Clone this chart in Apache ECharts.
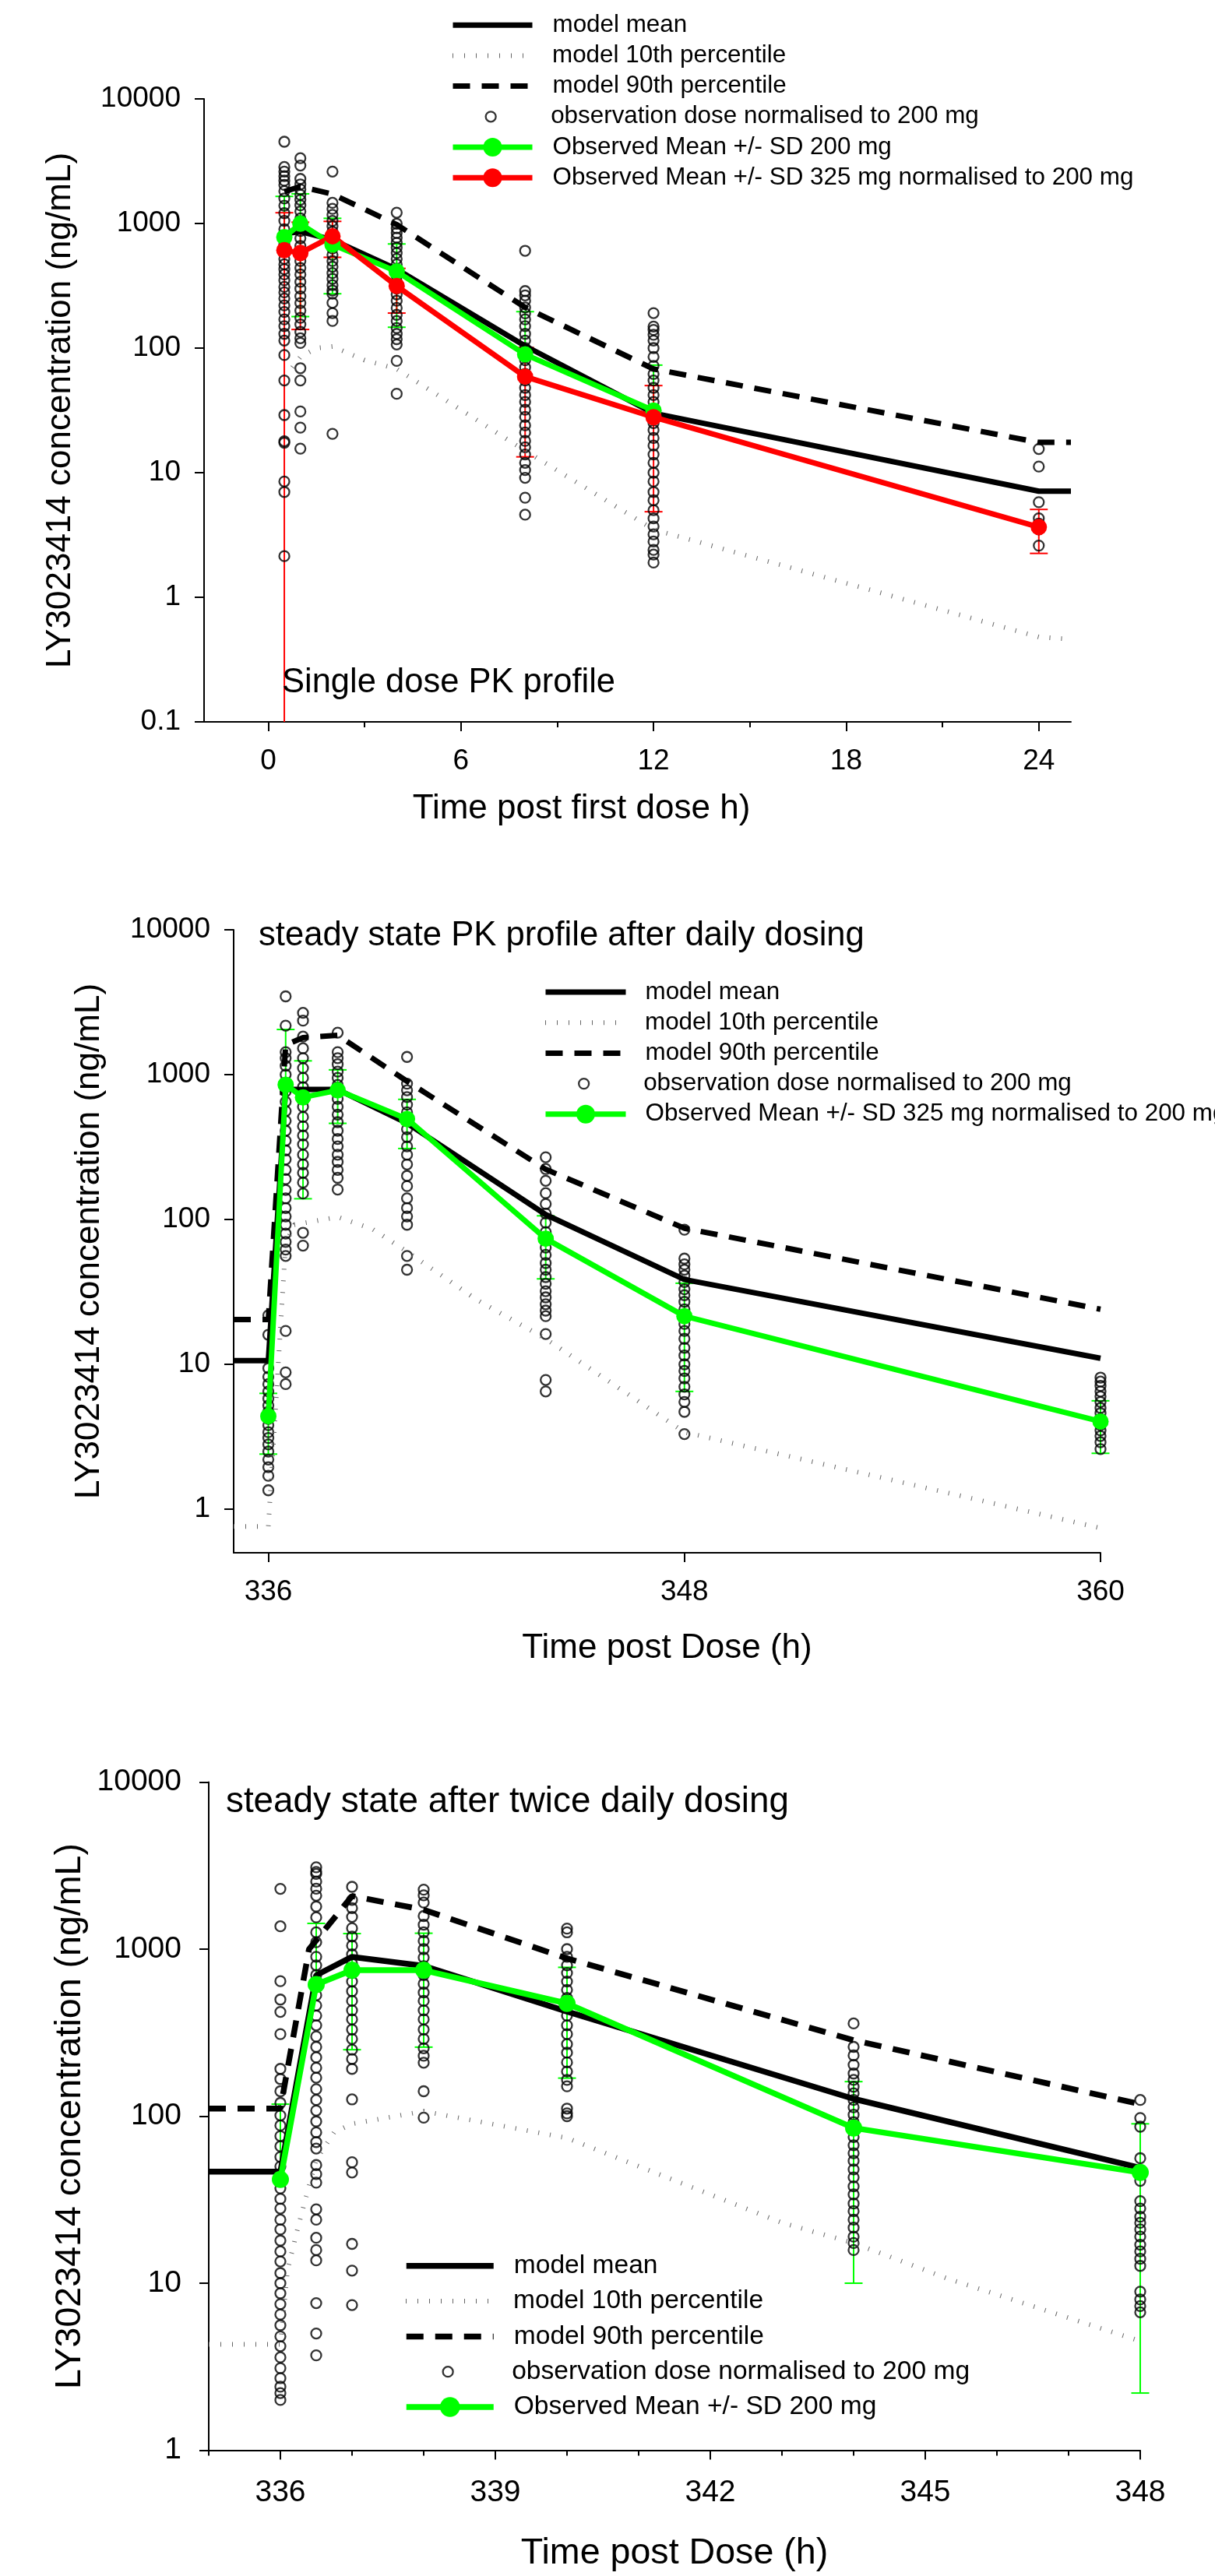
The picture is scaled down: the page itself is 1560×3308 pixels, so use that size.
<!doctype html>
<html lang="en">
<head>
<meta charset="UTF-8">
<title>LY3023414 PK profiles</title>
<script src="https://cdn.jsdelivr.net/npm/echarts@6/dist/echarts.min.js"></script>
<style>
	html, body { margin: 0; padding: 0; background: #fff; }
	#main { width: 1560px; height: 3308px; }
</style>
</head>
<body>
<div id="main"></div>
<script type="text/javascript">
	var FONT = '"Liberation Sans", Arial, sans-serif';
	var GREEN = '#00ff00', RED = '#ff0000', DOT = '#666';

	// ---------- panel 1 : single dose ----------
	var p1ModelTime = [0.5, 1, 2, 4, 8, 12, 24, 25];
	var p1ModelMean = [830, 860, 740, 430, 104, 30, 7.1, 7.1];
	var p1Model90 = [1800, 1980, 1720, 980, 212, 68, 17.5, 17.5];
	var p1Model10Time = [0.75, 1, 1.5, 2, 3, 4, 8, 12, 24, 25];
	var p1Model10 = [70, 85, 100, 103, 80, 68, 15, 3.5, 0.48, 0.46];
	var p1ObsTime = [0.5, 1, 2, 4, 8, 12, 24];
	var p1ObsValues = [
		[4530, 2840, 2610, 2400, 2210, 2040, 1820, 1590, 1390, 1210, 1050, 900, 780, 680, 600, 520, 470, 430, 390, 350, 310, 280, 250, 220, 195, 170, 150, 130, 115, 88, 55, 29, 17.9, 17.4, 8.5, 7.0, 2.14],
		[3340, 2920, 2280, 2060, 1880, 1700, 1550, 1400, 1250, 1100, 980, 870, 760, 660, 580, 500, 440, 390, 340, 300, 260, 230, 200, 175, 155, 135, 120, 110, 69, 55, 31, 23, 15.6],
		[2610, 1466, 1312, 1175, 1050, 950, 860, 780, 700, 630, 560, 500, 450, 400, 360, 320, 290, 273, 231, 191, 165, 20.5],
		[1222, 996, 916, 840, 770, 700, 640, 580, 520, 470, 420, 380, 340, 300, 270, 240, 210, 185, 165, 145, 130, 118, 107, 79, 43],
		[604, 287, 265, 240, 212, 190, 170, 150, 130, 115, 100, 90, 80, 70, 62, 55, 48, 42, 37, 32, 28, 24, 21, 18, 16, 14, 12, 10.5, 9.1, 6.3, 4.6],
		[191, 149, 140, 128, 115, 100, 85, 72, 62, 55, 48, 42, 37, 32, 28, 25, 22, 19, 16.5, 14, 12, 10, 8.5, 7, 6, 5, 4.3, 3.7, 3.2, 2.8, 2.4, 2.2, 1.9],
		[15.5, 11.2, 5.8, 4.3, 3.9, 3.5, 2.6]
	];
	var p1GreenTime = [0.5, 1, 2, 4, 8, 12];
	var p1GreenMean = [778, 995, 678, 412, 89, 31.5];
	var p1GreenLow = [null, 179, 273, 147, null, null];
	var p1GreenHigh = [1650, 1730, 1100, 685, 196, 73];
	var p1RedTime = [0.5, 1, 2, 4, 8, 12, 24];
	var p1RedMean = [610, 580, 790, 315, 59, 27.9, 3.66];
	var p1RedLow = [0.05, 141, 535, 191, 13.4, 4.86, 2.25];
	var p1RedHigh = [1220, 1024, 1040, 436, 101, 50, 5.07];

	// ---------- panel 2 : steady state, daily dosing ----------
	var p2ModelTime = [335, 336, 336.5, 337, 338, 340, 344, 348, 360];
	var p2ModelMean = [10.6, 10.6, 790, 790, 790, 462, 108, 38.5, 11];
	var p2Model90 = [20.4, 20.4, 1600, 1800, 1870, 900, 222, 87, 24];
	var p2Model10Time = [335, 336, 336.5, 336.75, 338, 339, 340, 342, 344, 348, 360];
	var p2Model10 = [0.76, 0.76, 68, 92, 104, 86, 60, 28, 15, 3.4, 0.74];
	var p2ObsTime = [336, 336.5, 337, 338, 340, 344, 348, 360];
	var p2ObsValues = [
		[21.8, 16, 9.4, 8.2, 7.3, 6.5, 5.8, 5.2, 4.7, 4.2, 3.8, 3.4, 3.1, 2.8, 2.5, 2.2, 1.95, 1.7, 1.35],
		[3470, 2180, 1430, 1300, 1150, 1000, 880, 765, 650, 560, 480, 410, 350, 300, 260, 220, 190, 160, 140, 120, 105, 92, 80, 70, 62, 56, 17, 8.8, 7.3],
		[2670, 2360, 1830, 1520, 1300, 1110, 950, 820, 700, 600, 510, 440, 380, 330, 280, 240, 210, 180, 151, 81, 66],
		[1950, 1430, 1300, 1180, 1050, 950, 850, 760, 680, 600, 530, 470, 410, 360, 320, 280, 250, 220, 194, 161],
		[1325, 866, 780, 700, 620, 550, 480, 420, 370, 320, 280, 240, 200, 170, 140, 120, 105, 92, 56, 45],
		[269, 223, 185, 152, 128, 110, 95, 82, 72, 64, 57, 50, 45, 40, 36, 32, 29, 26, 23.5, 21.5, 16.2, 7.8, 6.5],
		[85, 53.7, 49, 45, 41, 37, 33, 30, 27, 24, 21.5, 19, 17, 15, 13, 11.5, 10, 9, 8, 7, 6.2, 5.5, 4.7, 3.3],
		[8.1, 7.6, 7.1, 6.5, 6, 5.5, 5, 4.6, 4.2, 3.8, 3.5, 3.2, 2.9, 2.6]
	];
	var p2GreenTime = [336, 336.5, 337, 338, 340, 344, 348, 360];
	var p2GreenMean = [4.38, 851, 697, 780, 494, 73.7, 21.5, 4.03];
	var p2GreenLow = [2.4, null, 139, 461, 309, 38.9, 6.5, 2.43];
	var p2GreenHigh = [6.3, 2050, 1245, 1079, 675, 106, 36.3, 5.6];

	// ---------- panel 3 : steady state, twice daily dosing ----------
	var p3ModelTime = [335, 336, 336.5, 337, 338, 340, 344, 348];
	var p3ModelMean = [46.5, 46.5, 698, 899, 794, 423, 127, 49];
	var p3Model90Time = [335, 336, 336.4, 337, 338, 340, 344, 348];
	var p3Model90 = [111, 111, 1000, 2080, 1720, 880, 285, 118];
	var p3Model10Time = [335, 336, 336.1, 336.25, 336.5, 336.75, 337, 338, 340, 343, 344, 345.3, 348];
	var p3Model10 = [4.3, 4.3, 12, 22, 55, 80, 90, 107, 74, 23, 17.4, 10.7, 4.5];
	var p3ObsTime = [336, 336.5, 337, 338, 340, 344, 348];
	var p3ObsValues = [
		[2296, 1370, 643, 499, 421, 310, 192, 167, 141, 120, 101, 88, 76, 66, 57, 50, 43, 37, 32, 28, 24, 21, 18, 15.5, 13.5, 11.5, 10, 8.7, 7.5, 6.5, 5.6, 4.8, 4.2, 3.6, 3.1, 2.7, 2.4, 2.2, 2.0],
		[3090, 2900, 2820, 2540, 2300, 2090, 1800, 1550, 1260, 1100, 900, 800, 700, 610, 530, 460, 400, 350, 300, 260, 225, 195, 170, 145, 125, 108, 93, 80, 70, 64, 51, 45, 40, 27.7, 24, 18.7, 15.8, 13.7, 7.6, 5, 3.7],
		[2360, 1970, 1760, 1560, 1334, 1190, 1050, 930, 820, 720, 640, 560, 490, 430, 380, 330, 290, 250, 220, 192, 126, 53, 46, 17.2, 11.9, 7.4],
		[2270, 2100, 1900, 1578, 1400, 1260, 1120, 1000, 890, 790, 700, 620, 550, 490, 430, 380, 330, 290, 255, 230, 209, 141, 98],
		[1327, 1260, 1000, 900, 800, 720, 640, 570, 510, 450, 400, 350, 310, 270, 240, 210, 185, 165, 151, 111, 104, 100],
		[359, 260, 231, 203, 180, 165, 150, 137, 125, 113, 102, 92, 83, 75, 67, 60, 54, 48, 43, 38, 34, 30, 27, 24, 21.5, 19, 17.4, 15.8],
		[125, 97.5, 86.5, 56, 41, 31, 28, 25, 23, 21, 19, 17, 15.5, 14, 12.7, 8.9, 8, 7.3, 6.7]
	];
	var p3GreenTime = [336, 336.5, 337, 338, 340, 344, 348];
	var p3GreenMean = [41.8, 614, 748, 748, 473, 85, 46];
	var p3GreenLow = [null, null, 250, 259, 169, 10, 2.2];
	var p3GreenHigh = [118, 1426, 1239, 1245, 778, 161, 90];

	var p1XTicks = [0, 6, 12, 18, 24], p1XMinor = [3, 9, 15, 21];
	var p2XTicks = [336, 348, 360];
	var p3XTicks = [336, 339, 342, 345, 348], p3XMinor = [335, 337, 338, 340, 341, 343, 344, 346, 347];

	var YTITLE = 'LY3023414 concentration (ng/mL)';
	var L_MEAN = 'model mean', L_P10 = 'model 10th percentile', L_P90 = 'model 90th percentile',
		L_OBS = 'observation dose normalised to 200 mg',
		L_200 = 'Observed Mean +/- SD 200 mg', L_325 = 'Observed Mean +/- SD 325 mg normalised to 200 mg';
	var OBS_SIZE = 13, OBS_LINE = 2.3;

	function pairs(xs, ys) { return xs.map(function (x, i) { return [x, ys[i]]; }); }
	function obsPairs(ts, groups) {
		var out = [];
		ts.forEach(function (t, i) { groups[i].forEach(function (v) { out.push([t, v]); }); });
		return out;
	}
	function barData(ts, mean, low, high) {
		return ts.map(function (t, i) { return [t, mean[i], low[i] == null ? NaN : low[i], high[i]]; });
	}

	function errorBarRender(color, yMin, capHalf) {
		return function (params, api) {
			var t = api.value(0), mean = api.value(1), low = api.value(2), high = api.value(3);
			var top = api.coord([t, high]);
			var x = top[0], bottom, kids = [];
			var cs = params.coordSys;
			if (!isFinite(low)) {
				bottom = api.coord([t, mean])[1];
			} else if (low < yMin) {
				bottom = cs.y + cs.height;
			} else {
				bottom = api.coord([t, low])[1];
				kids.push({ type: 'line', shape: { x1: x - capHalf, y1: bottom, x2: x + capHalf, y2: bottom }, style: { stroke: color, lineWidth: 2 } });
			}
			kids.push({ type: 'line', shape: { x1: x, y1: top[1], x2: x, y2: bottom }, style: { stroke: color, lineWidth: 2 } });
			kids.push({ type: 'line', shape: { x1: x - capHalf, y1: top[1], x2: x + capHalf, y2: top[1] }, style: { stroke: color, lineWidth: 2 } });
			return { type: 'group', children: kids };
		};
	}

	// one set of series per panel; names carry a panel prefix so the legends stay separate
	function panelSeries(p, xi, yi, m, yMin, lw, sym) {
		var list = [
			{ name: p + '|' + L_P10, type: 'line', xAxisIndex: xi, yAxisIndex: yi, data: m.p10, symbol: 'none',
				lineStyle: { color: DOT, width: 6, type: [1, 14], cap: 'butt' }, silent: true },
			{ name: p + '|' + L_MEAN, type: 'line', xAxisIndex: xi, yAxisIndex: yi, data: m.mean, symbol: 'none',
				lineStyle: { color: '#000', width: lw }, silent: true },
			{ name: p + '|' + L_P90, type: 'line', xAxisIndex: xi, yAxisIndex: yi, data: m.p90, symbol: 'none',
				lineStyle: { color: '#000', width: lw, type: [22, 15], cap: 'butt' }, silent: true },
			{ name: p + '|' + L_OBS, type: 'scatter', xAxisIndex: xi, yAxisIndex: yi, data: m.obs, symbol: 'circle', symbolSize: OBS_SIZE,
				itemStyle: { color: 'rgba(0,0,0,0)', borderColor: '#000', borderWidth: OBS_LINE }, silent: true }
		];
		m.obsMeans.forEach(function (o) {
			list.push({ type: 'custom', xAxisIndex: xi, yAxisIndex: yi, data: o.bars, silent: true,
				renderItem: errorBarRender(o.color, yMin, 11.5), encode: { x: 0, y: 1 } });
			list.push({ name: p + '|' + o.label, type: 'line', xAxisIndex: xi, yAxisIndex: yi, data: o.mean,
				symbol: 'circle', symbolSize: sym, showSymbol: true, lineStyle: { color: o.color, width: lw },
				itemStyle: { color: o.color }, silent: true });
		});
		return list;
	}

	var series = [].concat(
		panelSeries('1', 0, 0, {
			p10: pairs(p1Model10Time, p1Model10), mean: pairs(p1ModelTime, p1ModelMean), p90: pairs(p1ModelTime, p1Model90),
			obs: obsPairs(p1ObsTime, p1ObsValues),
			obsMeans: [
				{ label: L_200, color: GREEN, bars: barData(p1GreenTime, p1GreenMean, p1GreenLow, p1GreenHigh), mean: pairs(p1GreenTime, p1GreenMean) },
				{ label: L_325, color: RED, bars: barData(p1RedTime, p1RedMean, p1RedLow, p1RedHigh), mean: pairs(p1RedTime, p1RedMean) }
			]
		}, 0.1, 7, 21),
		panelSeries('2', 2, 1, {
			p10: pairs(p2Model10Time, p2Model10), mean: pairs(p2ModelTime, p2ModelMean), p90: pairs(p2ModelTime, p2Model90),
			obs: obsPairs(p2ObsTime, p2ObsValues),
			obsMeans: [
				{ label: L_325, color: GREEN, bars: barData(p2GreenTime, p2GreenMean, p2GreenLow, p2GreenHigh), mean: pairs(p2GreenTime, p2GreenMean) }
			]
		}, 0.5, 7, 21),
		panelSeries('3', 3, 2, {
			p10: pairs(p3Model10Time, p3Model10), mean: pairs(p3ModelTime, p3ModelMean), p90: pairs(p3Model90Time, p3Model90),
			obs: obsPairs(p3ObsTime, p3ObsValues),
			obsMeans: [
				{ label: L_200, color: GREEN, bars: barData(p3GreenTime, p3GreenMean, p3GreenLow, p3GreenHigh), mean: pairs(p3GreenTime, p3GreenMean) }
			]
		}, 1, 7.5, 22)
	);

	function mainX(gi, min, max, ticks, fs, margin, name, nameGap, nfs, namePad) {
		return {
			type: 'value', gridIndex: gi, min: min, max: max, position: 'bottom',
			axisLine: { show: true, onZero: false, lineStyle: { color: '#000', width: 2 } },
			axisTick: { show: true, length: 12, customValues: ticks, lineStyle: { color: '#000', width: 2 } },
			axisLabel: { customValues: ticks, fontSize: fs, margin: margin, color: '#000', fontFamily: FONT },
			splitLine: { show: false },
			name: name, nameLocation: 'middle', nameGap: nameGap,
			nameTextStyle: { fontSize: nfs, color: '#000', fontFamily: FONT, padding: namePad || 0 }
		};
	}
	function minorX(gi, min, max, ticks) {
		return {
			type: 'value', gridIndex: gi, min: min, max: max, position: 'bottom',
			axisLine: { show: false, onZero: false },
			axisTick: { show: true, length: 7, customValues: ticks, lineStyle: { color: '#000', width: 2 } },
			axisLabel: { show: false }, splitLine: { show: false }
		};
	}
	function logY(gi, min, fs, margin, nameGap, nfs, hideMin) {
		return {
			type: 'log', logBase: 10, gridIndex: gi, min: min, max: 10000, position: 'left',
			axisLine: { show: true, onZero: false, lineStyle: { color: '#000', width: 2 } },
			axisTick: { show: true, length: 12, lineStyle: { color: '#000', width: 2 } },
			axisLabel: { fontSize: fs, margin: margin, color: '#000', fontFamily: FONT, showMinLabel: !hideMin,
				formatter: function (v) { return String(v); } },
			splitLine: { show: false }, minorTick: { show: false },
			name: YTITLE, nameLocation: 'middle', nameGap: nameGap,
			nameTextStyle: { fontSize: nfs, color: '#000', fontFamily: FONT }
		};
	}

	function legendRow(name, left, top, o) {
		return {
			selectedMode: false, left: left, top: top, padding: 0, orient: 'horizontal',
			itemWidth: o.w, itemHeight: o.h,
			data: [{ name: name, itemStyle: o.itemStyle }],
			formatter: function (n) { return n.split('|')[1]; },
			textStyle: { fontSize: o.fs, fontFamily: FONT, color: '#000', lineHeight: o.lh, padding: [0, 0, 0, o.gap] },
			lineStyle: { width: 'inherit' },
			itemStyle: { borderWidth: 0 }
		};
	}
	function legendBlock(p, left, firstCenter, step, o, labels) {
		var hide = { opacity: 0 };
		var obsStyle = { color: 'rgba(0,0,0,0)', borderColor: '#000', borderWidth: OBS_LINE };
		return labels.map(function (lab, i) {
			var isObs = lab === L_OBS, isModel = lab === L_MEAN || lab === L_P10 || lab === L_P90;
			// the circle icon sits in the middle of the item box, and the legend is placed by its drawn extent
			var shift = isObs ? (o.w - OBS_SIZE) / 2 : 0;
			var opt = { w: o.w, lh: o.lh, fs: o.fs, gap: o.gap, h: isObs ? OBS_SIZE : o.lh,
				itemStyle: isObs ? obsStyle : (isModel ? hide : undefined) };
			return legendRow(p + '|' + lab, left + shift, firstCenter + i * step - o.lh / 2, opt);
		});
	}

	var legends = [].concat(
		legendBlock('1', 578, 31.7, 39.2, { w: 102, lh: 30, fs: 31.4, gap: 21 }, [L_MEAN, L_P10, L_P90, L_OBS, L_200, L_325]),
		legendBlock('2', 697, 1273.5, 39.2, { w: 103, lh: 30, fs: 31.4, gap: 20 }, [L_MEAN, L_P10, L_P90, L_OBS, L_325]),
		legendBlock('3', 518, 2908.8, 45.3, { w: 112, lh: 32, fs: 33.6, gap: 21 }, [L_MEAN, L_P10, L_P90, L_OBS, L_200])
	);

	function note(text, left, center, fs) {
		return { text: text, left: left, top: center - fs / 2, padding: 0,
			textStyle: { fontSize: fs, fontWeight: 'normal', color: '#000', fontFamily: FONT, lineHeight: fs } };
	}

	var myChart = echarts.init(document.getElementById('main'), null, { renderer: 'canvas' });
	var option = {
		animation: false,
		backgroundColor: '#fff',
		title: [
			note('Single dose PK profile', 362, 877, 43.5),
			note('steady state PK profile after daily dosing', 332, 1202, 43.6),
			note('steady state after twice daily dosing', 290, 2314, 45.8)
		],
		legend: legends,
		grid: [
			{ left: 262, top: 127, width: 1113, height: 800 },
			{ left: 300, top: 1194, width: 1113, height: 800 },
			{ left: 268, top: 2288.5, width: 1196, height: 858 }
		],
		xAxis: [
			mainX(0, -2, 25, p1XTicks, 37, 32, 'Time post first dose h)', 90, 44, [0, 144, 0, 0]),
			minorX(0, -2, 25, p1XMinor),
			mainX(1, 335, 360, p2XTicks, 37, 32, 'Time post Dose (h)', 101, 44),
			mainX(2, 335, 348, p3XTicks, 39, 35, 'Time post Dose (h)', 109, 46.6),
			minorX(2, 335, 348, p3XMinor)
		],
		yAxis: [
			logY(0, 0.1, 37, 30, 162, 44, false),
			logY(1, 0.5, 37, 30, 163, 44, true),
			logY(2, 1, 39, 35, 140, 46.6, false)
		],
		series: series
	};
	myChart.setOption(option);
</script>
</body>
</html>
